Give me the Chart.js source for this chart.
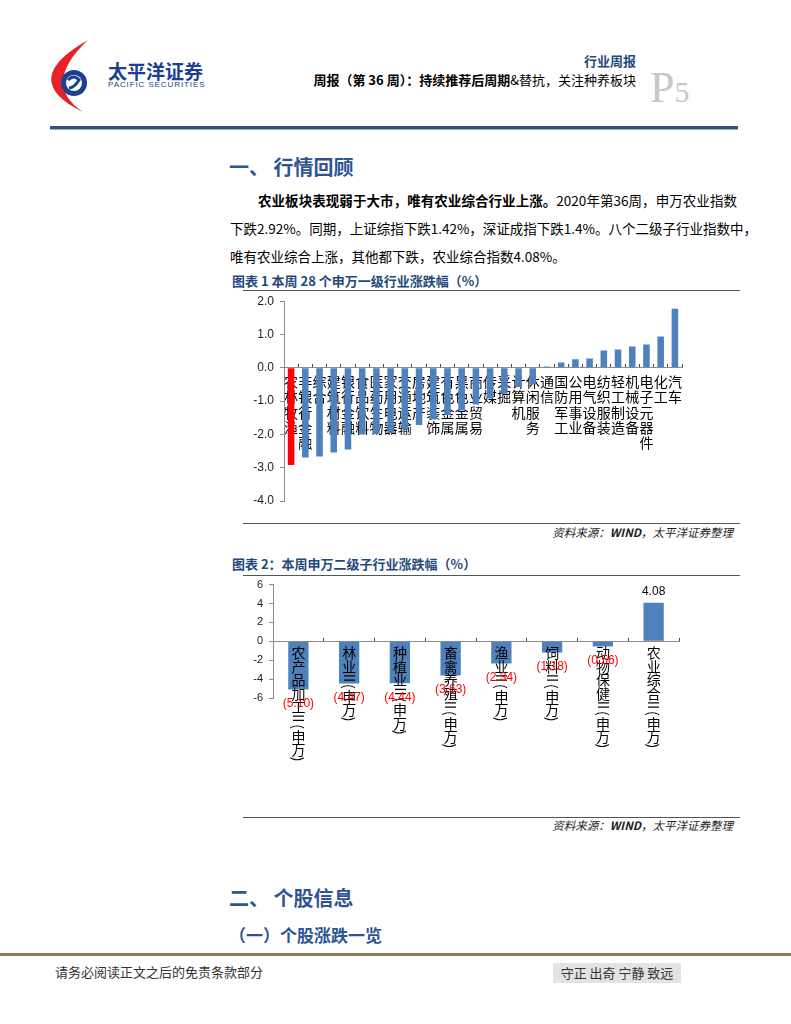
<!DOCTYPE html>
<html>
<head>
<meta charset="utf-8">
<script src="https://cdn.jsdelivr.net/npm/chart.js"></script>
<style>
body{margin:0;background:#fff;font-family:"Noto Sans CJK SC",sans-serif;color:#000;}
#page{position:relative;width:791px;height:1024px;overflow:hidden;background:#fff;}
.t{position:absolute;white-space:nowrap;line-height:1;}
.rule{position:absolute;height:1px;background:#555;}
.blue{color:#1f497d;}
.para{position:absolute;font-size:13.5px;line-height:16px;height:16px;white-space:nowrap;}
.just{text-align:justify;text-align-last:justify;}
.src{position:absolute;font-size:11.5px;font-style:italic;color:#222;white-space:nowrap;line-height:1;}
canvas{position:absolute;}
</style>
</head>
<body>
<div id="page">

<!-- logo -->
<svg style="position:absolute;left:0;top:0" width="140" height="130">
  <path d="M88,40 Q17,80 83,112 Q41,84 88,40 Z" fill="#e8202a"/>
  <circle cx="74" cy="83" r="13" fill="#1d3f8f"/>
  <circle cx="74" cy="83" r="8" fill="#fff"/>
  <path d="M68,80 Q74,74 79,80 Q74,88 69,88" stroke="#1d3f8f" stroke-width="3" fill="none"/>
</svg>
<div class="t" style="left:108px;top:61px;font-size:19px;font-weight:bold;color:#1d3f8f;">太平洋证券</div>
<div class="t" style="left:108px;top:81px;font-size:8px;font-family:'Liberation Sans';letter-spacing:0.9px;color:#1d3f8f;">PACIFIC SECURITIES</div>

<div class="t blue" style="right:155px;top:54px;font-size:13px;font-weight:bold;">行业周报</div>
<div class="t" style="right:155px;top:73px;font-size:13px;"><b>周报（第 36 周）：持续推荐后周期</b>&amp;替抗，关注种养板块</div>
<div class="t" style="left:650px;top:66px;font-family:'Liberation Serif';color:#c8c8c8;"><span style="font-size:44px;">P</span><span style="font-size:30px;">5</span></div>
<div style="position:absolute;left:50px;top:126px;width:688px;height:3px;background:#36507d;"></div>
<div style="position:absolute;left:50px;top:129px;width:688px;height:1px;background:#9aa5b8;"></div>

<!-- section 1 -->
<div class="t" style="left:229px;top:157px;font-size:20px;font-weight:bold;color:#2f5496;">一、 行情回顾</div>
<div class="para just" style="left:258px;top:192px;width:479px;"><b>农业板块表现弱于大市，唯有农业综合行业上涨。</b>2020年第36周，申万农业指数</div>
<div class="para just" style="left:230px;top:220px;width:507px;">下跌2.92%。同期，上证综指下跌1.42%，深证成指下跌1.4%。八个二级子行业指数中，</div>
<div class="para" style="left:230px;top:248px;">唯有农业综合上涨，其他都下跌，农业综合指数4.08%。</div>

<div class="t blue" style="left:232px;top:274px;font-size:13px;font-weight:bold;">图表 1 本周 28 个申万一级行业涨跌幅（%）</div>
<div class="rule" style="left:243px;top:290px;width:497px;"></div>
<canvas id="chart1" width="497" height="232" style="left:243px;top:288px;"></canvas>
<div class="rule" style="left:243px;top:523px;width:497px;"></div>
<div class="src" style="right:58px;top:527px;">资料来源：<b>WIND</b>，太平洋证券整理</div>

<div class="t blue" style="left:232px;top:557px;font-size:13px;font-weight:bold;">图表 2：本周申万二级子行业涨跌幅（%）</div>
<div class="rule" style="left:243px;top:575px;width:497px;"></div>
<canvas id="chart2" width="497" height="240" style="left:243px;top:572px;"></canvas>
<div class="rule" style="left:243px;top:817px;width:497px;"></div>
<div class="src" style="right:58px;top:820px;">资料来源：<b>WIND</b>，太平洋证券整理</div>

<!-- section 2 -->
<div class="t" style="left:229px;top:888px;font-size:20px;font-weight:bold;color:#2f5496;">二、 个股信息</div>
<div class="t" style="left:229px;top:926px;font-size:17px;font-weight:bold;color:#2f5496;">（一）个股涨跌一览</div>

<!-- footer -->
<div style="position:absolute;left:0;top:953px;width:791px;height:3px;background:#8b7d50;"></div>
<div class="t" style="left:55px;top:965px;font-size:13px;color:#333;">请务必阅读正文之后的免责条款部分</div>
<div class="t" style="left:553px;top:963px;width:128px;height:20px;line-height:20px;background:#e3e3e3;font-size:13px;color:#333;text-align:center;">守正 出奇 宁静 致远</div>

</div>

<script>
// 图表1 申万一级行业
var industryNames = ["农林牧渔","非银行金融","综合","建筑材料","银行金融","食品饮料","医药生物","家用电器","交通运输","房地产","建筑装饰","有色金属","黑色金属","商业贸易","传媒","采掘","计算机","休闲服务","通信","国防军工","公用事业","电气设备","纺织服装","轻工制造","机械设备","电子元器件","化工","汽车"];
var industryChg = [-2.92,-2.69,-2.66,-2.54,-2.45,-2.00,-1.99,-1.96,-1.85,-1.72,-1.55,-1.42,-1.28,-1.10,-0.92,-0.78,-0.58,-0.50,0.04,0.16,0.26,0.28,0.52,0.55,0.64,0.70,0.94,1.77];
var chart1Ticks = [-4,-3,-2,-1,0,1,2];

// 图表2 申万二级子行业
var subNames = ["农产品加工Ⅱ(申万)","林业Ⅱ(申万)","种植业Ⅱ(申万)","畜禽养殖Ⅱ(申万)","渔业Ⅱ(申万)","饲料Ⅱ(申万)","动物保健Ⅱ(申万)","农业综合Ⅱ(申万)"];
var subChg = [-5.10,-4.47,-4.44,-3.63,-2.34,-1.18,-0.56,4.08];
var chart2Ticks = [-6,-4,-2,0,2,4,6];

var axisGray = '#8c8c8c';
var barBlue = '#4f81bd';

var chart1 = new Chart(document.getElementById('chart1'), {
  type: 'bar',
  data: {
    labels: industryNames,
    datasets: [{
      data: industryChg,
      backgroundColor: function(c){ return c.dataIndex === 0 ? '#ff0000' : barBlue; },
      barPercentage: 0.46,
      categoryPercentage: 1
    }]
  },
  options: {
    responsive: false,
    animation: false,
    layout: { padding: { top: 4, right: 58, bottom: 19, left: 0 } },
    plugins: { legend: { display: false }, tooltip: { enabled: false } },
    scales: {
      x: {
        position: { y: 0 },
        grid: { display: true, drawOnChartArea: false, tickLength: -4, color: '#444' },
        border: { color: axisGray },
        ticks: {
          autoSkip: false, maxRotation: 0, minRotation: 0, padding: 10, color: '#000',
          font: { family: 'Noto Sans CJK SC', size: 14, lineHeight: 1.1 },
          callback: function(v, i){ return industryNames[i].split(''); }
        }
      },
      y: {
        min: chart1Ticks[0], max: chart1Ticks[chart1Ticks.length - 1],
        afterBuildTicks: function(s){ s.ticks = chart1Ticks.map(function(v){ return { value: v }; }); },
        grid: { drawOnChartArea: false, tickLength: 4, color: axisGray },
        border: { color: axisGray },
        ticks: {
          padding: 6, color: '#222',
          font: { family: 'Liberation Sans', size: 12 },
          callback: function(v){ return v.toFixed(1); }
        },
        afterFit: function(s){ s.width = 41; }
      }
    }
  }
});

// 竖排类目名和数值标签
var subLabels = {
  id: 'subLabels',
  afterDatasetsDraw: function(chart){
    var ctx = chart.ctx, xs = chart.scales.x, ys = chart.scales.y;
    var zeroY = ys.getPixelForValue(0);
    ctx.save();
    ctx.font = '14px "Noto Sans CJK SC"';
    ctx.fillStyle = '#000';
    ctx.textAlign = 'center';
    ctx.textBaseline = 'middle';
    subNames.forEach(function(name, i){
      var x = xs.getPixelForValue(i);
      var y = zeroY + 5;
      name.split('').forEach(function(ch){
        if (/[\u4e00-\u9fff]/.test(ch)) {
          ctx.fillText(ch, x, y + 6.7);
          y += 13.4;
        } else {
          var w = ctx.measureText(ch).width;
          if (ch === 'Ⅱ') w = 10;
          ctx.save();
          ctx.translate(x, y + w / 2);
          ctx.rotate(Math.PI / 2);
          ctx.fillText(ch, 0, 0);
          ctx.restore();
          y += w + 1;
        }
      });
    });
    var meta = chart.getDatasetMeta(0);
    ctx.font = '12px "Liberation Sans"';
    meta.data.forEach(function(bar, i){
      var v = subChg[i];
      if (v < 0) {
        ctx.fillStyle = '#ff0000';
        ctx.fillText('(' + Math.abs(v).toFixed(2) + ')', bar.x, bar.y + 14);
      } else {
        ctx.fillStyle = '#000';
        ctx.fillText(v.toFixed(2), bar.x, bar.y - 11);
      }
    });
    ctx.restore();
  }
};

var chart2 = new Chart(document.getElementById('chart2'), {
  type: 'bar',
  data: {
    labels: subNames,
    datasets: [{ data: subChg, backgroundColor: barBlue, barPercentage: 0.4, categoryPercentage: 1 }]
  },
  options: {
    responsive: false,
    animation: false,
    layout: { padding: { top: 3, right: 61, bottom: 114, left: 0 } },
    plugins: { legend: { display: false }, tooltip: { enabled: false } },
    scales: {
      x: {
        position: { y: 0 },
        grid: { display: true, drawOnChartArea: false, tickLength: -4, color: '#444' },
        border: { color: axisGray },
        ticks: { display: false }
      },
      y: {
        min: chart2Ticks[0], max: chart2Ticks[chart2Ticks.length - 1],
        afterBuildTicks: function(s){ s.ticks = chart2Ticks.map(function(v){ return { value: v }; }); },
        grid: { drawOnChartArea: false, tickLength: 4, color: axisGray },
        border: { color: axisGray },
        ticks: { padding: 6, color: '#222', font: { family: 'Liberation Sans', size: 11 } },
        afterFit: function(s){ s.width = 30; }
      }
    }
  },
  plugins: [subLabels]
});
</script>
</body>
</html>
